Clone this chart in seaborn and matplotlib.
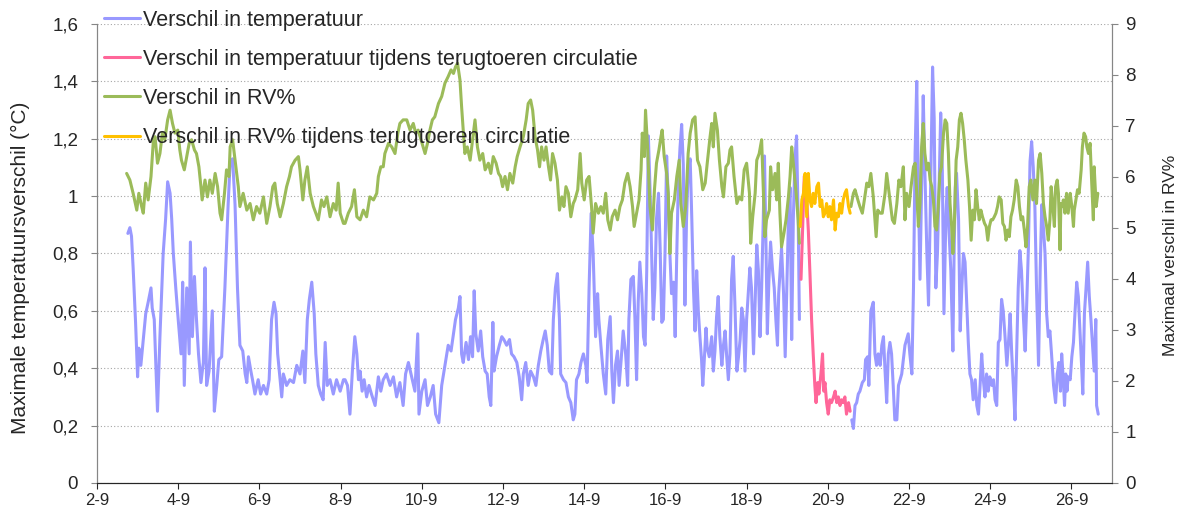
import matplotlib
matplotlib.use("Agg")
import matplotlib.pyplot as plt
import seaborn as sns
import pandas as pd
from matplotlib.lines import Line2D
from matplotlib.ticker import FuncFormatter

# readings from the chart: (day of September, value)
# max. temperature difference (left axis, degC)
temp_before = [
    (2.76, 0.87), (2.81, 0.89), (2.85, 0.86), (2.89, 0.75), (2.95, 0.56), (3.00, 0.37), (3.03, 0.47),
    (3.08, 0.41), (3.14, 0.50), (3.20, 0.59), (3.26, 0.63), (3.33, 0.68), (3.36, 0.61), (3.41, 0.57),
    (3.44, 0.45), (3.49, 0.25), (3.55, 0.51), (3.63, 0.80), (3.69, 0.92), (3.74, 1.05), (3.80, 1.01),
    (3.84, 0.92), (3.88, 0.80), (3.94, 0.68), (4.00, 0.57), (4.07, 0.45), (4.11, 0.70), (4.15, 0.34),
    (4.21, 0.68), (4.27, 0.45), (4.30, 0.84), (4.35, 0.51), (4.40, 0.72), (4.45, 0.57), (4.50, 0.45),
    (4.56, 0.35), (4.62, 0.42), (4.66, 0.75), (4.70, 0.34), (4.76, 0.39), (4.84, 0.60), (4.89, 0.25),
    (4.95, 0.34), (5.00, 0.43), (5.07, 0.44), (5.15, 0.68), (5.23, 0.97),
    (5.28, 1.12), (5.34, 1.13), (5.40, 0.97), (5.46, 0.68), (5.52, 0.48), (5.59, 0.46), (5.65, 0.38),
    (5.69, 0.35), (5.73, 0.44), (5.79, 0.39), (5.83, 0.36), (5.89, 0.31), (5.97, 0.36), (6.03, 0.31),
    (6.10, 0.34), (6.18, 0.31), (6.24, 0.36), (6.30, 0.57), (6.36, 0.63), (6.41, 0.59), (6.45, 0.45),
    (6.49, 0.39), (6.55, 0.30), (6.59, 0.38), (6.67, 0.34), (6.75, 0.36), (6.84, 0.35), (6.92, 0.41),
    (7.00, 0.38), (7.07, 0.46), (7.12, 0.35), (7.18, 0.57), (7.23, 0.64), (7.29, 0.70), (7.35, 0.59),
    (7.39, 0.45), (7.45, 0.34), (7.51, 0.31), (7.57, 0.29), (7.62, 0.49), (7.67, 0.34), (7.74, 0.36),
    (7.82, 0.31), (7.90, 0.36), (7.99, 0.32), (8.07, 0.36),
    (8.11, 0.36), (8.17, 0.34), (8.23, 0.24), (8.29, 0.39), (8.35, 0.51), (8.40, 0.45), (8.44, 0.36),
    (8.48, 0.39), (8.53, 0.32), (8.58, 0.36), (8.64, 0.30), (8.70, 0.34), (8.76, 0.31), (8.85, 0.27),
    (8.93, 0.37), (8.99, 0.32), (9.05, 0.36), (9.13, 0.38), (9.22, 0.34), (9.30, 0.37), (9.38, 0.30),
    (9.46, 0.35), (9.54, 0.27), (9.60, 0.38), (9.67, 0.42), (9.75, 0.37), (9.83, 0.32), (9.90, 0.52),
    (9.93, 0.24), (10.00, 0.32), (10.08, 0.36), (10.14, 0.27), (10.21, 0.30), (10.28, 0.34), (10.34, 0.24),
    (10.42, 0.21), (10.49, 0.34), (10.57, 0.41), (10.65, 0.48), (10.72, 0.46), (10.78, 0.52), (10.83, 0.57),
    (10.90, 0.61),
    (10.94, 0.65), (10.98, 0.45), (11.02, 0.42), (11.09, 0.49), (11.15, 0.43), (11.20, 0.51), (11.25, 0.44),
    (11.29, 0.67), (11.33, 0.52), (11.39, 0.46), (11.45, 0.53), (11.50, 0.44), (11.56, 0.39), (11.61, 0.38),
    (11.66, 0.30), (11.70, 0.27), (11.75, 0.56), (11.78, 0.39), (11.84, 0.44), (11.91, 0.48), (11.97, 0.51),
    (12.02, 0.50), (12.09, 0.48), (12.16, 0.50), (12.21, 0.45), (12.27, 0.44), (12.34, 0.42), (12.40, 0.37),
    (12.46, 0.29), (12.50, 0.38), (12.56, 0.42), (12.62, 0.34), (12.68, 0.39), (12.75, 0.37), (12.81, 0.34),
    (12.87, 0.41), (12.93, 0.46), (12.99, 0.50), (13.04, 0.53), (13.09, 0.48), (13.14, 0.39), (13.20, 0.38),
    (13.24, 0.57), (13.29, 0.68), (13.34, 0.73), (13.39, 0.57), (13.42, 0.38), (13.49, 0.36), (13.55, 0.35),
    (13.61, 0.30), (13.67, 0.28), (13.73, 0.22), (13.77, 0.24),
    (13.81, 0.36), (13.87, 0.38), (13.92, 0.42), (13.98, 0.45), (14.04, 0.41), (14.07, 0.35), (14.12, 0.68),
    (14.17, 0.94), (14.22, 0.80), (14.28, 0.51), (14.33, 0.66), (14.36, 0.57), (14.41, 0.48), (14.47, 0.38),
    (14.53, 0.31), (14.58, 0.50), (14.64, 0.58), (14.68, 0.39), (14.72, 0.28), (14.77, 0.41), (14.82, 0.46),
    (14.86, 0.34), (14.91, 0.43), (14.96, 0.53), (15.02, 0.45), (15.07, 0.34), (15.10, 0.57), (15.15, 0.71),
    (15.21, 0.72), (15.25, 0.57), (15.29, 0.36), (15.33, 0.63), (15.37, 0.77), (15.42, 0.66), (15.46, 0.51),
    (15.50, 0.48), (15.54, 0.74), (15.58, 1.21), (15.62, 1.03), (15.66, 0.80), (15.70, 0.57), (15.74, 0.68),
    (15.78, 0.92), (15.83, 1.01), (15.87, 0.82), (15.91, 0.56), (15.95, 0.57), (15.99, 0.80), (16.03, 1.14),
    (16.07, 0.99), (16.11, 0.80), (16.15, 0.66), (16.20, 0.70), (16.24, 0.51), (16.28, 0.80), (16.32, 1.06),
    (16.36, 1.17), (16.40, 1.25), (16.44, 1.11), (16.48, 0.62), (16.52, 0.92), (16.56, 1.09), (16.61, 1.13),
    (16.65, 0.92), (16.69, 0.68), (16.73, 0.53), (16.77, 0.74), (16.81, 0.60), (16.85, 0.51), (16.89, 0.43),
    (16.92, 0.34), (16.95, 0.41), (17.00, 0.54), (17.03, 0.47), (17.08, 0.44), (17.14, 0.51), (17.18, 0.39),
    (17.22, 0.46), (17.26, 0.58), (17.30, 0.65), (17.34, 0.51), (17.39, 0.41), (17.43, 0.48), (17.47, 0.53),
    (17.51, 0.44), (17.55, 0.36), (17.59, 0.45), (17.63, 0.71), (17.67, 0.79), (17.71, 0.63), (17.76, 0.39),
    (17.80, 0.44), (17.84, 0.50), (17.88, 0.61), (17.92, 0.57), (17.96, 0.39), (18.00, 0.57), (18.04, 0.66),
    (18.08, 0.75), (18.12, 0.68), (18.17, 0.45), (18.21, 0.63), (18.25, 0.83), (18.29, 0.74), (18.33, 0.51),
    (18.37, 0.68), (18.41, 0.92), (18.44, 1.14), (18.48, 0.80), (18.51, 0.52), (18.55, 0.71), (18.59, 0.84),
    (18.64, 0.74), (18.68, 0.68), (18.72, 0.57), (18.76, 0.48), (18.79, 0.66), (18.82, 0.73), (18.86, 0.82),
    (18.91, 0.66), (18.95, 0.44), (18.99, 0.68), (19.03, 0.92), (19.07, 1.03), (19.11, 0.50), (19.15, 0.92),
    (19.19, 1.13), (19.23, 1.21), (19.27, 0.92), (19.30, 0.57),
]
temp_reduced = [
    (19.34, 0.71), (19.38, 0.89), (19.42, 1.07), (19.44, 1.07), (19.48, 0.99), (19.52, 0.88), (19.56, 0.73),
    (19.60, 0.57), (19.64, 0.45), (19.68, 0.34), (19.71, 0.28), (19.75, 0.35), (19.78, 0.31), (19.83, 0.38),
    (19.87, 0.45), (19.90, 0.32), (19.93, 0.35), (19.97, 0.28), (20.01, 0.24), (20.05, 0.29), (20.09, 0.28),
    (20.14, 0.30), (20.18, 0.32), (20.22, 0.28), (20.26, 0.30), (20.30, 0.27), (20.34, 0.29), (20.38, 0.28),
    (20.42, 0.30), (20.46, 0.24), (20.51, 0.28), (20.55, 0.25),
]
temp_after = [
    (20.59, 0.22), (20.63, 0.19), (20.67, 0.27), (20.71, 0.28), (20.75, 0.31), (20.79, 0.32), (20.85, 0.35),
    (20.90, 0.36), (20.93, 0.43), (20.98, 0.44), (21.01, 0.34), (21.06, 0.60), (21.12, 0.63), (21.16, 0.45),
    (21.20, 0.41), (21.24, 0.45), (21.29, 0.41), (21.33, 0.48), (21.37, 0.51), (21.41, 0.39), (21.45, 0.28),
    (21.49, 0.45), (21.53, 0.49), (21.57, 0.45), (21.61, 0.34), (21.65, 0.22), (21.70, 0.22), (21.74, 0.34),
    (21.78, 0.36), (21.82, 0.38), (21.86, 0.43), (21.90, 0.48), (21.94, 0.50), (21.98, 0.52), (22.02, 0.45),
    (22.07, 0.38), (22.11, 0.68), (22.15, 1.15), (22.19, 1.40), (22.23, 1.03), (22.27, 0.71), (22.31, 1.03),
    (22.35, 1.35), (22.39, 1.09), (22.44, 0.80), (22.48, 0.62), (22.52, 0.92), (22.56, 1.27), (22.58, 1.45),
    (22.62, 1.27), (22.66, 0.68), (22.70, 0.80), (22.74, 1.03), (22.78, 1.29), (22.82, 1.09), (22.86, 0.59),
    (22.91, 0.94), (22.94, 1.03), (22.99, 0.86), (23.03, 0.74), (23.08, 0.46), (23.11, 0.80), (23.14, 1.03),
    (23.17, 1.08), (23.22, 0.92), (23.26, 0.53), (23.30, 0.68), (23.34, 0.80), (23.38, 0.77), (23.42, 0.63),
    (23.46, 0.49), (23.50, 0.38), (23.54, 0.36), (23.58, 0.29), (23.63, 0.36), (23.67, 0.27), (23.71, 0.24),
    (23.75, 0.34), (23.79, 0.45), (23.83, 0.36), (23.87, 0.30), (23.91, 0.38), (23.95, 0.32), (23.99, 0.37),
    (24.04, 0.34), (24.08, 0.36), (24.12, 0.29), (24.16, 0.27), (24.20, 0.49), (24.24, 0.50), (24.28, 0.64),
    (24.32, 0.60), (24.36, 0.52), (24.41, 0.41), (24.45, 0.49), (24.49, 0.59), (24.53, 0.45), (24.57, 0.34),
    (24.61, 0.22), (24.65, 0.45), (24.69, 0.68), (24.73, 0.81), (24.77, 0.74), (24.82, 0.57), (24.86, 0.46),
    (24.90, 0.63), (24.94, 0.82), (24.98, 1.12), (25.02, 1.19), (25.06, 1.10), (25.10, 0.96), (25.14, 0.68),
    (25.19, 0.41), (25.23, 0.74), (25.27, 0.97), (25.31, 0.89), (25.35, 0.80), (25.39, 0.59), (25.43, 0.51),
    (25.47, 0.53), (25.51, 0.45), (25.56, 0.34), (25.61, 0.28), (25.65, 0.38), (25.69, 0.42), (25.73, 0.32),
    (25.76, 0.45), (25.80, 0.36), (25.83, 0.27), (25.86, 0.38), (25.89, 0.32), (25.92, 0.37), (25.97, 0.36),
    (26.01, 0.44), (26.05, 0.49), (26.09, 0.60), (26.13, 0.70), (26.17, 0.65), (26.21, 0.53), (26.25, 0.41),
    (26.28, 0.31), (26.32, 0.59), (26.36, 0.68), (26.40, 0.77), (26.44, 0.65), (26.48, 0.57), (26.52, 0.48),
    (26.56, 0.39), (26.60, 0.57), (26.62, 0.27), (26.66, 0.24),
]

# max. RV% difference (right axis)
rv_before = [
    (2.73, 6.07), (2.81, 5.94), (2.89, 5.68), (2.98, 5.35), (3.03, 5.68), (3.10, 5.42), (3.14, 5.29),
    (3.20, 5.88), (3.26, 5.55), (3.33, 6.01), (3.39, 6.73), (3.43, 6.79), (3.49, 6.27), (3.55, 6.46),
    (3.61, 6.86), (3.67, 6.73), (3.74, 7.12), (3.80, 7.31), (3.86, 7.05), (3.92, 6.86), (3.99, 6.92),
    (4.04, 6.53), (4.08, 6.33), (4.15, 6.14), (4.21, 6.40), (4.27, 6.66), (4.33, 6.73), (4.40, 6.53),
    (4.45, 6.46), (4.51, 6.20), (4.56, 5.81), (4.59, 5.55), (4.66, 5.94), (4.72, 5.61), (4.78, 5.94),
    (4.84, 5.68), (4.91, 6.07), (4.97, 5.81), (5.03, 5.29), (5.07, 5.16), (5.14, 5.68), (5.19, 6.14),
    (5.25, 6.01),
    (5.28, 6.59), (5.34, 6.73), (5.40, 6.33), (5.48, 5.81), (5.52, 5.42), (5.60, 5.68), (5.69, 5.35),
    (5.77, 5.48), (5.85, 5.16), (5.93, 5.42), (6.01, 5.29), (6.10, 5.61), (6.18, 5.09), (6.26, 5.42),
    (6.33, 5.81), (6.38, 5.88), (6.44, 5.48), (6.51, 5.22), (6.59, 5.48), (6.67, 5.81), (6.74, 6.01),
    (6.79, 6.20), (6.88, 6.33), (6.96, 6.40), (7.00, 6.14), (7.07, 5.55), (7.12, 5.94), (7.18, 6.20),
    (7.25, 5.68), (7.33, 5.42), (7.39, 5.29), (7.45, 5.16), (7.53, 5.55), (7.59, 5.42), (7.66, 5.61),
    (7.74, 5.22), (7.82, 5.48), (7.89, 5.35), (7.94, 5.88), (7.99, 5.29), (8.07, 5.09),
    (8.11, 5.09), (8.19, 5.29), (8.27, 5.42), (8.34, 5.75), (8.40, 5.22), (8.48, 5.16), (8.56, 5.35),
    (8.64, 5.22), (8.72, 5.61), (8.81, 5.55), (8.89, 5.68), (8.93, 6.01), (8.99, 6.20), (9.05, 6.20),
    (9.09, 6.46), (9.18, 6.66), (9.26, 6.59), (9.34, 6.46), (9.41, 6.86), (9.46, 7.05), (9.54, 7.12),
    (9.63, 7.12), (9.71, 6.92), (9.79, 7.05), (9.85, 6.86), (9.91, 6.92), (9.98, 6.73), (10.08, 6.46),
    (10.14, 6.66), (10.20, 6.92), (10.26, 7.12), (10.32, 7.18), (10.41, 7.44), (10.49, 7.58), (10.57, 7.84),
    (10.65, 7.97), (10.72, 8.10), (10.78, 8.03), (10.83, 8.16), (10.88, 8.23), (10.94, 7.90),
    (10.98, 7.38), (11.02, 6.92), (11.06, 6.46), (11.12, 6.59), (11.19, 6.33), (11.25, 6.73), (11.31, 7.12),
    (11.37, 6.59), (11.43, 6.33), (11.50, 6.46), (11.56, 6.14), (11.64, 6.27), (11.70, 6.07), (11.76, 6.40),
    (11.83, 6.27), (11.89, 6.07), (11.94, 6.01), (11.99, 5.81), (12.05, 6.01), (12.11, 5.75), (12.17, 6.07),
    (12.24, 5.88), (12.30, 6.20), (12.35, 6.40), (12.42, 6.59), (12.50, 6.79), (12.57, 7.12), (12.62, 7.44),
    (12.68, 7.51), (12.73, 7.31), (12.79, 6.79), (12.85, 6.53), (12.90, 6.20), (12.95, 6.59), (13.01, 6.33),
    (13.06, 6.59), (13.12, 6.20), (13.17, 5.94), (13.22, 6.46), (13.28, 6.27), (13.34, 5.94), (13.39, 5.35),
    (13.45, 5.61), (13.50, 5.42), (13.55, 5.81), (13.61, 5.68), (13.67, 5.22), (13.73, 5.48),
    (13.77, 5.55), (13.84, 5.75), (13.90, 6.46), (13.94, 5.88), (14.00, 5.55), (14.06, 5.94), (14.12, 6.01),
    (14.18, 5.42), (14.22, 4.90), (14.28, 5.48), (14.35, 5.29), (14.41, 5.42), (14.47, 5.29), (14.53, 5.68),
    (14.58, 5.16), (14.64, 4.96), (14.69, 5.22), (14.76, 5.35), (14.82, 5.16), (14.88, 5.42), (14.94, 5.55),
    (15.00, 5.88), (15.07, 6.07), (15.13, 5.81), (15.19, 5.42), (15.23, 5.03), (15.29, 5.29), (15.35, 5.55),
    (15.40, 6.14), (15.43, 6.86), (15.48, 6.40), (15.51, 7.31), (15.56, 6.59), (15.62, 5.42), (15.68, 4.96),
    (15.73, 5.75), (15.78, 6.27), (15.84, 6.53), (15.89, 6.79), (15.92, 6.92), (15.97, 6.40), (16.03, 6.07),
    (16.07, 5.68), (16.11, 4.50), (16.15, 5.29), (16.22, 5.55), (16.28, 6.01), (16.34, 6.33), (16.38, 5.48),
    (16.44, 5.03), (16.50, 5.42), (16.56, 6.46),
    (16.61, 6.86), (16.67, 7.12), (16.73, 7.18), (16.79, 6.33), (16.85, 6.20), (16.92, 5.75), (16.98, 5.88),
    (17.03, 6.27), (17.10, 6.79), (17.14, 7.05), (17.18, 6.59), (17.22, 7.25), (17.28, 6.92), (17.33, 6.33),
    (17.39, 5.81), (17.43, 5.61), (17.49, 6.20), (17.55, 6.27), (17.59, 6.53), (17.63, 6.59), (17.69, 6.01),
    (17.76, 5.48), (17.82, 5.61), (17.88, 5.55), (17.94, 6.14), (18.00, 6.27), (18.07, 5.68), (18.10, 4.70),
    (18.15, 5.22), (18.21, 5.68), (18.25, 6.33), (18.31, 6.46), (18.37, 6.73), (18.41, 5.81), (18.45, 4.83),
    (18.49, 5.16), (18.56, 5.35), (18.59, 6.20), (18.64, 5.75), (18.70, 6.07), (18.74, 5.55), (18.78, 6.27),
    (18.82, 5.29), (18.86, 4.63), (18.92, 4.90), (18.97, 5.16), (19.03, 5.61), (19.07, 6.01), (19.11, 6.59),
    (19.15, 6.27), (19.22, 5.68), (19.27, 5.16), (19.30, 4.70),
]
rv_reduced = [
    (19.32, 5.03), (19.36, 5.55), (19.40, 5.68), (19.44, 6.07), (19.48, 5.22), (19.52, 6.07), (19.56, 5.55),
    (19.60, 5.42), (19.64, 5.68), (19.68, 5.48), (19.73, 5.81), (19.77, 5.88), (19.81, 5.42), (19.85, 5.55),
    (19.89, 5.22), (19.93, 5.29), (19.97, 5.48), (20.01, 5.22), (20.05, 5.42), (20.09, 5.16), (20.14, 5.55),
    (20.18, 4.96), (20.22, 5.29), (20.26, 5.22), (20.30, 5.48), (20.34, 5.29), (20.38, 5.55), (20.42, 5.68),
    (20.46, 5.75), (20.51, 5.42), (20.55, 5.29),
]
rv_after = [
    (20.57, 5.42), (20.63, 5.68), (20.67, 5.75), (20.74, 5.55), (20.79, 5.42), (20.85, 5.29), (20.90, 5.55),
    (20.96, 5.88), (21.01, 5.81), (21.06, 6.07), (21.12, 5.61), (21.16, 5.16), (21.19, 4.83), (21.23, 5.35),
    (21.29, 5.29), (21.34, 5.29), (21.41, 5.68), (21.45, 6.07), (21.49, 5.81), (21.53, 5.55), (21.59, 5.16),
    (21.64, 5.09), (21.70, 5.48), (21.75, 5.94), (21.80, 5.81), (21.86, 6.20), (21.90, 5.16), (21.94, 5.68),
    (22.00, 5.42), (22.05, 5.81), (22.11, 6.20), (22.15, 6.27), (22.19, 5.68), (22.23, 5.03), (22.27, 5.48),
    (22.31, 6.59), (22.35, 7.05), (22.39, 6.46), (22.44, 6.14), (22.48, 6.27), (22.52, 5.94), (22.56, 5.81),
    (22.60, 5.55), (22.64, 5.03), (22.68, 4.96), (22.72, 5.42), (22.76, 6.07), (22.80, 6.20), (22.85, 6.86),
    (22.89, 7.12), (22.93, 7.05), (22.97, 6.46), (23.01, 5.48), (23.05, 5.03), (23.08, 4.50), (23.12, 5.16),
    (23.16, 6.33), (23.20, 6.59), (23.24, 7.12), (23.28, 7.25), (23.32, 7.05), (23.36, 6.73), (23.40, 6.33),
    (23.45, 5.94), (23.49, 5.42), (23.53, 4.76), (23.57, 5.35), (23.61, 5.16), (23.65, 5.75), (23.69, 5.42),
    (23.73, 5.16), (23.77, 5.35), (23.81, 5.22), (23.86, 5.09), (23.90, 5.03), (23.94, 4.76), (23.98, 5.03),
    (24.02, 5.16), (24.06, 5.16), (24.10, 5.22), (24.14, 5.29), (24.18, 5.42), (24.22, 5.61), (24.27, 5.55),
    (24.31, 5.09), (24.35, 5.03), (24.39, 4.76), (24.43, 4.96), (24.47, 4.83), (24.51, 5.22), (24.55, 5.35),
    (24.59, 5.55), (24.64, 5.94), (24.68, 5.81), (24.72, 5.42), (24.76, 5.16), (24.80, 5.22), (24.84, 4.96),
    (24.88, 4.63), (24.92, 5.03), (24.96, 5.81), (25.00, 5.94), (25.05, 5.55), (25.10, 5.94), (25.14, 5.48),
    (25.19, 6.33), (25.23, 6.46), (25.27, 6.07), (25.31, 5.48), (25.35, 5.22), (25.39, 5.03), (25.43, 4.76),
    (25.47, 5.16), (25.50, 5.81), (25.53, 5.55), (25.58, 5.03), (25.61, 5.81), (25.65, 5.94), (25.68, 5.68),
    (25.72, 4.57), (25.74, 5.48), (25.78, 5.42), (25.80, 5.55), (25.84, 5.29), (25.88, 5.68), (25.92, 5.29),
    (25.97, 5.68), (26.01, 5.42), (26.05, 5.03), (26.07, 5.35), (26.11, 5.55), (26.15, 5.75), (26.19, 5.68),
    (26.24, 6.14), (26.27, 6.59), (26.31, 6.86), (26.35, 6.79), (26.38, 6.59), (26.42, 6.46), (26.46, 6.66),
    (26.50, 5.88), (26.54, 5.16), (26.56, 6.20), (26.61, 5.42), (26.65, 5.68),
]

x_ticks = list(range(2, 27, 2))
x_labels = [f"{d}-9" for d in x_ticks]
left_ticks = [0, 0.2, 0.4, 0.6, 0.8, 1.0, 1.2, 1.4, 1.6]
right_ticks = list(range(0, 10))

legend_labels = [
    "Verschil in temperatuur",
    "Verschil in temperatuur tijdens terugtoeren circulatie",
    "Verschil in RV%",
    "Verschil in RV% tijdens terugtoeren circulatie",
]
colors = ["#9999FF", "#FF6699", "#9BBB59", "#FFC000"]

sns.set_style("white")
plt.rcParams["font.family"] = ["Liberation Sans", "DejaVu Sans"]


def frame(points):
    return pd.DataFrame(points, columns=["dag", "waarde"])


fig, ax = plt.subplots(figsize=(11.8, 5.16), dpi=100)
fig.subplots_adjust(left=0.0822, right=0.9424, top=0.9535, bottom=0.064)
ax2 = ax.twinx()

lw = 2.2
for pts in (temp_before, temp_after):
    sns.lineplot(data=frame(pts), x="dag", y="waarde", ax=ax, color=colors[0], lw=lw,
                 estimator=None, sort=False)
sns.lineplot(data=frame(temp_reduced), x="dag", y="waarde", ax=ax, color=colors[1], lw=lw,
             estimator=None, sort=False)
for pts in (rv_before, rv_after):
    sns.lineplot(data=frame(pts), x="dag", y="waarde", ax=ax2, color=colors[2], lw=lw,
                 estimator=None, sort=False)
sns.lineplot(data=frame(rv_reduced), x="dag", y="waarde", ax=ax2, color=colors[3], lw=lw,
             estimator=None, sort=False)

# axes
ax.set_xlim(2, 27)
ax.set_ylim(0, 1.6)
ax2.set_ylim(0, 9)
ax.set_xticks(x_ticks)
ax.set_xticklabels(x_labels)
ax.set_yticks(left_ticks)
ax.yaxis.set_major_formatter(FuncFormatter(lambda v, p: f"{v:g}".replace(".", ",")))
ax2.set_yticks(right_ticks)

ax.set_xlabel("")
ax.set_ylabel("Maximale temperatuursverschil (°C)", fontsize=15)
ax.yaxis.set_label_coords(-0.066, 0.468)
ax2.set_ylabel("Maximaal verschil in RV%", fontsize=12.5)
ax2.yaxis.set_label_coords(1.05, 0.495)

ax.yaxis.grid(True, color="#A6A6A6", linestyle=(0, (1, 2)), linewidth=0.8)
ax.xaxis.grid(False)
ax2.grid(False)

gray = "#868686"
for a in (ax, ax2):
    a.spines["top"].set_visible(False)
    a.spines["left"].set_color(gray)
    a.spines["right"].set_color(gray)
    a.spines["bottom"].set_color("#262626")
ax.tick_params(axis="y", direction="out", length=4.5, color=gray, labelsize=13.5, pad=9, left=True)
ax.tick_params(axis="x", direction="out", length=4, color="#262626", labelsize=12, pad=3, bottom=True)
ax2.tick_params(axis="y", direction="out", length=4.5, color=gray, labelsize=13.5, pad=5, right=True)

handles = [Line2D([], [], color=c, lw=lw) for c in colors]
fig.legend(handles, legend_labels, loc="upper left", bbox_to_anchor=(0.0885, 0.981),
           frameon=False, fontsize=15.5, handlelength=1.65, handletextpad=0.15,
           labelspacing=0.84, borderpad=0, borderaxespad=0)

fig.savefig("out.png", dpi=100)
